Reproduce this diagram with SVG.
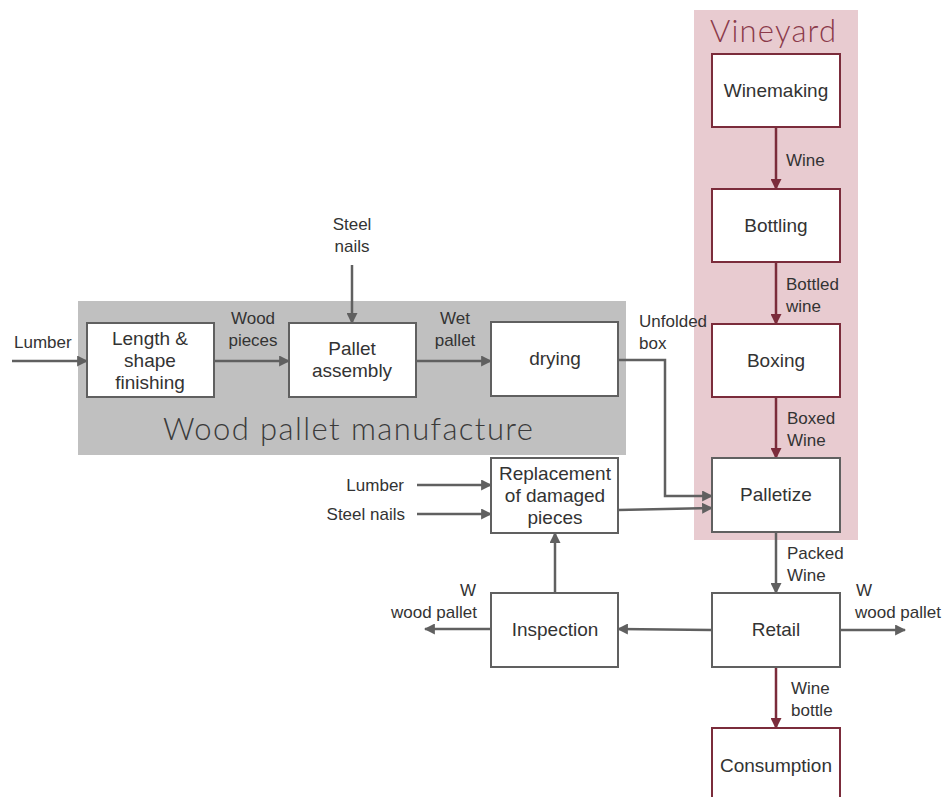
<svg xmlns="http://www.w3.org/2000/svg" width="945" height="797" viewBox="0 0 945 797">
<style>
.t{font-family:"Liberation Sans",Arial,sans-serif;font-size:17px;fill:#333}
.b{font-size:19px}
.c{text-anchor:middle}
.r{text-anchor:end}
.box{fill:#fff;stroke:#606060;stroke-width:2}
.mbox{fill:#fff;stroke:#7b2c3b;stroke-width:2}
.g{fill:none;stroke:#606060;stroke-width:2.5}
.m{fill:none;stroke:#7b2c3b;stroke-width:2.5}
.title{font-family:Lato,"Liberation Sans",sans-serif;font-weight:300;font-size:31px}
</style>
<defs>
<marker id="ag" viewBox="0 0 10 10" refX="9" refY="5" markerWidth="4.4" markerHeight="4.4" orient="auto" markerUnits="strokeWidth"><path d="M0,0L10,5L0,10z" fill="#606060"/></marker>
<marker id="am" viewBox="0 0 10 10" refX="9" refY="5" markerWidth="4.4" markerHeight="4.4" orient="auto" markerUnits="strokeWidth"><path d="M0,0L10,5L0,10z" fill="#7b2c3b"/></marker>
</defs>
<g id="vineyard-area">
<rect x="694" y="10" width="164" height="530" fill="#e8cbd0"/>
<text x="773" y="42" class="title c" fill="#8b3a4a" textLength="126">Vineyard</text>
</g>
<g id="wood-area">
<rect x="78" y="301" width="548" height="154" fill="#c0c0c0"/>
<text x="348" y="440" class="title c" fill="#3a3a3a" textLength="370">Wood pallet manufacture</text>
</g>
<g id="connectors">
<line x1="776" y1="127" x2="776" y2="189" class="m" marker-end="url(#am)"/>
<line x1="776" y1="262" x2="776" y2="324" class="m" marker-end="url(#am)"/>
<line x1="776" y1="397" x2="776" y2="458" class="m" marker-end="url(#am)"/>
<line x1="776" y1="532" x2="776" y2="593" class="g" marker-end="url(#ag)"/>
<line x1="776" y1="667" x2="776" y2="728" class="m" marker-end="url(#am)"/>
<line x1="12" y1="361" x2="87" y2="361" class="g" marker-end="url(#ag)"/>
<line x1="214" y1="361" x2="289" y2="361" class="g" marker-end="url(#ag)"/>
<line x1="352" y1="265" x2="352" y2="323" class="g" marker-end="url(#ag)"/>
<line x1="416" y1="361" x2="491" y2="361" class="g" marker-end="url(#ag)"/>
<polyline points="618,360 665,360 665,496 712,496" class="g" marker-end="url(#ag)"/>
<line x1="417" y1="485" x2="491" y2="485" class="g" marker-end="url(#ag)"/>
<line x1="417" y1="514" x2="491" y2="514" class="g" marker-end="url(#ag)"/>
<line x1="618" y1="510" x2="712" y2="508" class="g" marker-end="url(#ag)"/>
<line x1="555" y1="593" x2="555" y2="533" class="g" marker-end="url(#ag)"/>
<line x1="491" y1="629" x2="425" y2="629" class="g" marker-end="url(#ag)"/>
<line x1="712" y1="630" x2="618" y2="629" class="g" marker-end="url(#ag)"/>
<line x1="840" y1="630" x2="905" y2="630" class="g" marker-end="url(#ag)"/>
</g>
<g id="labels">
<text x="786" y="166" class="t">Wine</text>
<text x="786" y="290" class="t">Bottled</text>
<text x="786" y="312" class="t">wine</text>
<text x="787" y="424" class="t">Boxed</text>
<text x="787" y="446" class="t">Wine</text>
<text x="787" y="559" class="t">Packed</text>
<text x="787" y="581" class="t">Wine</text>
<text x="791" y="694" class="t">Wine</text>
<text x="791" y="716" class="t">bottle</text>
<text x="14" y="348" class="t">Lumber</text>
<text x="253" y="324" class="t c">Wood</text>
<text x="253" y="346" class="t c">pieces</text>
<text x="352" y="230" class="t c">Steel</text>
<text x="352" y="252" class="t c">nails</text>
<text x="455" y="324" class="t c">Wet</text>
<text x="455" y="346" class="t c">pallet</text>
<text x="639" y="327" class="t">Unfolded</text>
<text x="639" y="349" class="t">box</text>
<text x="404" y="491" class="t r">Lumber</text>
<text x="405" y="520" class="t r">Steel nails</text>
<text x="476" y="596" class="t r">W</text>
<text x="477" y="618" class="t r">wood pallet</text>
<text x="856" y="596" class="t">W</text>
<text x="855" y="618" class="t">wood pallet</text>
</g>
<g id="winemaking"><rect x="712" y="54" width="128" height="73" class="mbox"/><text x="776" y="97" class="t b c">Winemaking</text></g>
<g id="bottling"><rect x="712" y="189" width="128" height="73" class="mbox"/><text x="776" y="232" class="t b c">Bottling</text></g>
<g id="boxing"><rect x="712" y="324" width="128" height="73" class="mbox"/><text x="776" y="367" class="t b c">Boxing</text></g>
<g id="palletize"><rect x="712" y="458" width="128" height="74" class="box"/><text x="776" y="501" class="t b c">Palletize</text></g>
<g id="retail"><rect x="712" y="593" width="128" height="74" class="box"/><text x="776" y="636" class="t b c">Retail</text></g>
<g id="consumption"><rect x="712" y="728" width="128" height="80" class="mbox"/><text x="776" y="772" class="t b c">Consumption</text></g>
<g id="length-shape"><rect x="87" y="323" width="127" height="74" class="box"/><text x="150" y="345" class="t b c">Length &amp;</text><text x="150" y="367" class="t b c">shape</text><text x="150" y="389" class="t b c">finishing</text></g>
<g id="pallet-assembly"><rect x="289" y="323" width="127" height="74" class="box"/><text x="352" y="355" class="t b c">Pallet</text><text x="352" y="377" class="t b c">assembly</text></g>
<g id="drying"><rect x="491" y="322" width="127" height="74" class="box"/><text x="555" y="365" class="t b c">drying</text></g>
<g id="replacement"><rect x="491" y="458" width="127" height="75" class="box"/><text x="555" y="480" class="t b c">Replacement</text><text x="555" y="502" class="t b c">of damaged</text><text x="555" y="524" class="t b c">pieces</text></g>
<g id="inspection"><rect x="491" y="593" width="127" height="74" class="box"/><text x="555" y="636" class="t b c">Inspection</text></g>
</svg>
